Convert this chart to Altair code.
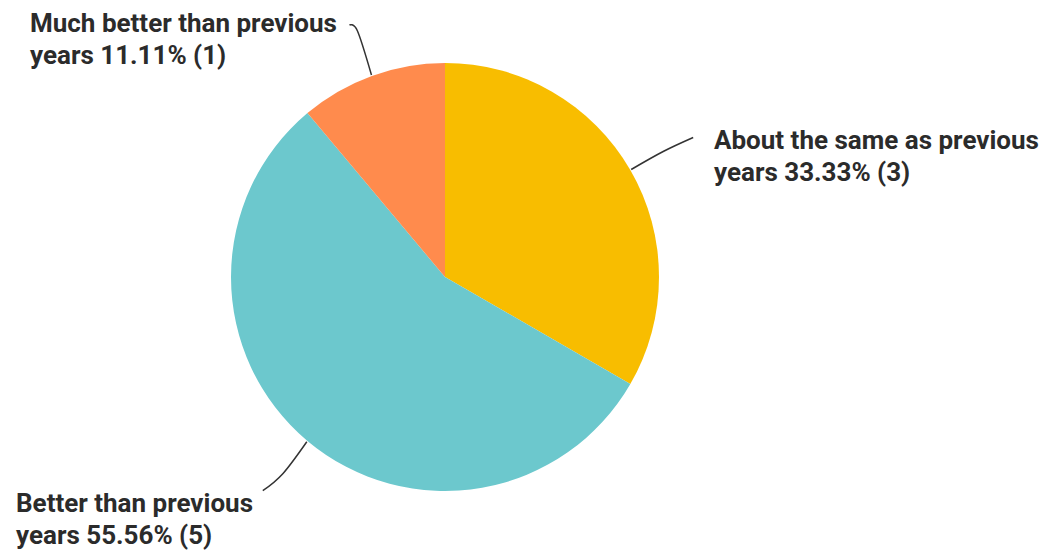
import math
import altair as alt
import pandas as pd

# ---- data ----
categories = ["About the same as previous years",
              "Better than previous years",
              "Much better than previous years"]
counts = [3, 5, 1]
percents = ["33.33%", "55.56%", "11.11%"]
label_line1 = ["About the same as previous",
               "Better than previous",
               "Much better than previous"]

# ---- style / layout ----
colors = ["#F8BD00", "#6CC8CD", "#FF8B4D"]
W, H = 1051, 550
CX, CY, R = 445, 277, 214
label_anchor = {  # left x, first-line baseline y
    categories[0]: (714, 149),
    categories[1]: (16, 512),
    categories[2]: (30, 32),
}
leader_offsets = {  # waypoints relative to slice mid-point on the rim
    categories[0]: [(0, 0), (32, -18), (62, -32)],
    categories[1]: [(0, 0), (-24, 32), (-44, 49)],
    categories[2]: [(0, 0), (-14, -44), (-22, -50)],
}

df = pd.DataFrame({
    "category": categories,
    "count": counts,
    "pct": percents,
    "order": list(range(len(categories))),
})
df["label"] = [f"{l1}\nyears {p} ({c})" for l1, p, c in zip(label_line1, percents, counts)]

# slice mid angles (clockwise from 12 o'clock) computed from the counts
total = sum(counts)
rows = []
cum = 0
for cat, c in zip(categories, counts):
    a = 2 * math.pi * (cum + c / 2) / total
    cum += c
    sx = CX + (R + 1) * math.sin(a)
    sy = CY - (R + 1) * math.cos(a)
    for i, (dx, dy) in enumerate(leader_offsets[cat]):
        rows.append({"category": cat, "i": i, "px": sx + dx, "py": sy + dy})
lines_df = pd.DataFrame(rows)

pie = alt.Chart(df).mark_arc(radius=R).encode(
    theta=alt.Theta("count:Q", stack=True),
    order=alt.Order("order:Q"),
    color=alt.Color("category:N",
                    scale=alt.Scale(domain=categories, range=colors),
                    legend=None),
    x=alt.value(CX),
    y=alt.value(CY),
)

xs = alt.Scale(domain=[0, W], range=[0, W], zero=False, nice=False)
ys = alt.Scale(domain=[0, H], range=[0, H], zero=False, nice=False)

leaders = alt.Chart(lines_df).mark_line(
    color="#333333", strokeWidth=1.5, interpolate="cardinal"
).encode(
    x=alt.X("px:Q", scale=xs, axis=None),
    y=alt.Y("py:Q", scale=ys, axis=None),
    detail="category:N",
    order="i:Q",
)

texts = []
for cat in categories:
    lx, ly = label_anchor[cat]
    texts.append(
        alt.Chart(df).transform_filter(alt.datum.category == cat).mark_text(
            align="left", baseline="alphabetic", lineBreak="\n", lineHeight=32,
            font="Roboto", fontSize=26, fontWeight="bold", color="#2b2b2b",
        ).encode(text="label:N", x=alt.value(lx), y=alt.value(ly))
    )

chart = alt.layer(pie, leaders, *texts).properties(
    width=W, height=H, padding=0, background="white",
    autosize=alt.AutoSizeParams(type="none"),
).configure_view(stroke=None, strokeWidth=0)

chart.save("out.html", embed_options={"renderer": "svg", "actions": False})
